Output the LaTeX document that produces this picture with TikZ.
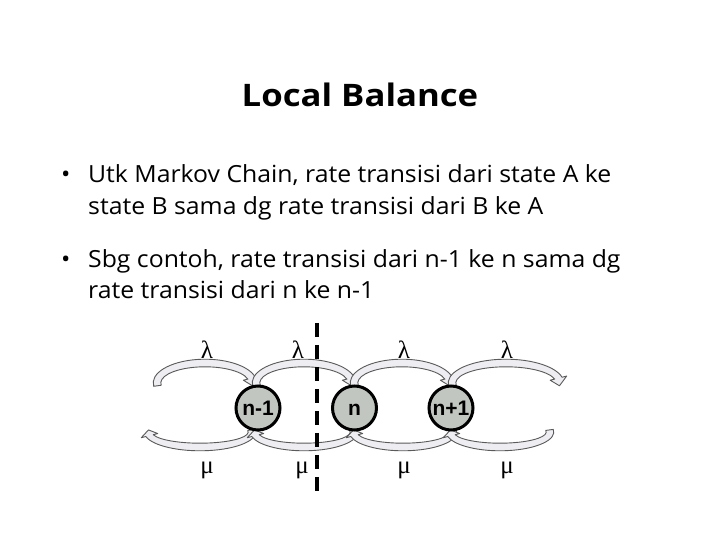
\documentclass[tikz,border=0pt]{standalone}
\usepackage{fontspec}
\setmainfont[FakeStretch=1.12]{Open Sans}
\newfontfamily\bodyfont[FakeStretch=1.05]{Open Sans}
\newfontfamily\statefont{Liberation Sans}
\newfontfamily\greekfont{Liberation Serif}
\usetikzlibrary{calc}
\def\abw{3.8}
\def\ahw{8.5}
\newcommand{\blockarc}[7]{%
  \filldraw[arcst] ($(#1,#2)+(#5:{#3+\abw} and {#4+\abw})$)
    arc[start angle=#5, end angle=#7, x radius={#3+\abw}, y radius={#4+\abw}]
    -- ($(#1,#2)+(#7:{#3+\ahw} and {#4+\ahw})$)
    -- ($(#1,#2)+(#6:{#3} and {#4})$)
    -- ($(#1,#2)+(#7:{#3-\ahw} and {#4-\ahw})$)
    -- ($(#1,#2)+(#7:{#3-\abw} and {#4-\abw})$)
    arc[start angle=#7, end angle=#5, x radius={#3-\abw}, y radius={#4-\abw}]
    -- cycle;}
\definecolor{arcfill}{HTML}{EEEEF2}
\definecolor{arcline}{HTML}{5A5A5A}
\definecolor{statefill}{HTML}{C2C6C0}
\tikzset{
  arcst/.style={fill=arcfill, draw=arcline, line width=0.9pt, line join=round},
  state/.style={circle, draw=black, line width=3pt, fill=statefill, minimum size=44pt, inner sep=0pt,
    text height=15pt, text depth=0pt,
    font=\statefont\bfseries\fontsize{21}{24}\selectfont},
  body/.style={anchor=base west, inner sep=0pt, font=\bodyfont\fontsize{23.6}{28}\selectfont},
  rate/.style={font=\greekfont\fontsize{25}{27}\selectfont},
}
\begin{document}
\begin{tikzpicture}[x=1pt,y=1pt]
\useasboundingbox (0,0) rectangle (720,540);
\fill[white] (0,0) rectangle (720,540);
\node[font=\bfseries\fontsize{31}{36}\selectfont] (title) at (360,445) {Local Balance};
\node[body] (b1) at (61,357) {•};
\node[body] (t1) at (88,357) {Utk Markov Chain, rate transisi dari state A ke};
\node[body] (t2) at (88,325) {state B sama dg rate transisi dari B ke A};
\node[body] (b2) at (61,272) {•};
\node[body] (t3) at (88,272) {Sbg contoh, rate transisi dari n-1 ke n sama dg};
\node[body] (t4) at (88,241) {rate transisi dari n ke n-1};
% top arcs (lambda)
\blockarc{205}{157}{48}{20}{188}{-8}{14}
\blockarc{304}{157}{48}{20}{188}{-8}{14}
\blockarc{402}{157}{48}{20}{188}{-8}{14}
\blockarc{506}{157}{54}{20}{188}{-8}{14}
% bottom arcs (mu)
\blockarc{200}{108}{52}{15}{368}{172}{194}
\blockarc{304}{108}{50}{15}{368}{172}{194}
\blockarc{403}{108}{50}{15}{368}{172}{194}
\blockarc{500}{108}{50}{15}{368}{172}{194}
\node[state] (s1) at (258,132) {n-1};
\node[state] (s2) at (354.5,132) {n};
\node[state] (s3) at (451,132) {n+1};
\foreach \xx/\nm in {207/l1,298/l2,404/l3,507/l4} \node[rate] (\nm) at (\xx,190) {λ};
\foreach \xx/\nm in {207/m1,302/m2,404/m3,507/m4} \node[rate] (\nm) at (\xx,70) {μ};
\coordinate (dtop) at (316.5,217);
\coordinate (dbot) at (316.5,46);
\draw[line width=4pt, dash pattern=on 14pt off 8pt] (dtop) -- (dbot);
\end{tikzpicture}
\end{document}
